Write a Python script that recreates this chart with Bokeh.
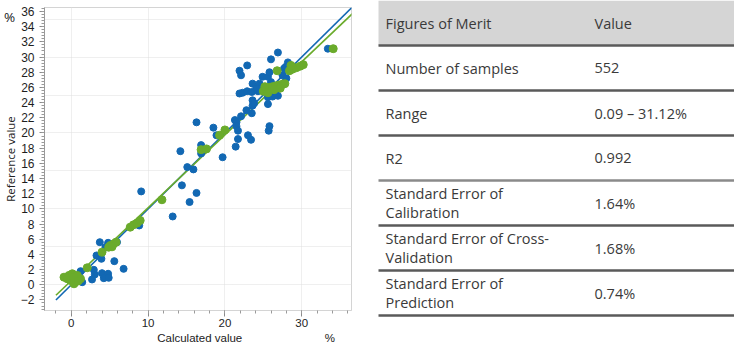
import math
from bokeh.plotting import figure
from bokeh.models import SingleIntervalTicker, Range1d, ColumnDataSource
from bokeh.layouts import row, column
from bokeh.embed import file_html
from bokeh.resources import INLINE
from bokeh.core.properties import value

# ---------------- data ----------------
blue_x = [0.35, 1.21, 1.42, 2.93, 3.06, 2.7, 4.0, 4.79, 4.23, 4.87, 3.28, 3.92, 5.6, 6.81,
          3.71, 4.79, 5.95, 4.44, 8.84, 9.1, 13.2, 14.4, 15.4, 16.3,
          14.2, 15.1, 15.9, 16.3, 16.9, 16.9, 18.5, 18.9, 19.7, 21.3, 21.5, 21.5, 21.7, 21.7,
          21.4, 22.1, 22.8, 23.5, 23.4, 23.0, 23.6, 23.6, 23.8, 25.8, 25.7, 25.6, 25.6, 26.9,
          26.2, 21.9, 22.3, 22.9, 23.5, 24.3, 24.9, 23.6, 24.5, 24.1, 26.0, 25.6, 25.8, 24.9,
          27.5, 27.7, 28.0, 27.9, 28.2, 26.0, 26.9, 22.9, 21.9, 22.1, 33.4, 27.2, 27.6, 26.5]
blue_y = [0.8, 1.79, 0.34, 1.97, 1.36, 0.7, 1.53, 1.45, 0.87, 0.92, 3.86, 3.42, 3.11, 2.1,
          5.61, 5.53, 5.61, 4.95, 7.81, 12.3, 9.0, 13.1, 10.9, 12.1,
          17.6, 15.5, 15.2, 21.4, 18.4, 17.3, 20.7, 19.7, 16.8, 21.7, 21.4, 20.9, 20.3, 19.2,
          18.2, 22.2, 23.0, 22.6, 19.1, 19.7, 24.3, 23.6, 23.9, 20.9, 20.3, 23.8, 24.7, 24.9,
          24.8, 25.2, 25.3, 25.5, 25.4, 25.5, 25.6, 26.5, 26.5, 25.9, 26.7, 27.4, 28.0, 27.4,
          27.6, 28.5, 27.2, 28.7, 29.3, 29.7, 30.6, 28.9, 28.2, 27.6, 31.1, 26.0, 26.4, 25.5]

green_x = [-0.95, -0.3, 0.13, -0.09, 0.56, 0.35, 1.2, 0.78, -0.52, 0.3, 0.9,
           2.07, 4.0, 5.09, 5.52, 5.82, 4.87, 5.3,
           7.67, 8.1, 8.54, 8.97, 11.8, 16.9, 17.6, 19.3, 20.0,
           25.0, 25.4, 25.8, 26.2, 26.6, 27.0, 27.4, 27.8, 25.6, 26.4, 27.2, 25.2,
           26.8, 28.4, 28.8, 29.3, 29.8, 30.2, 28.6, 34.1]
green_y = [1.0, 1.23, 1.45, 0.57, 0.79, 0.13, 0.79, 1.23, 0.79, 1.0, 0.5,
           2.24, 4.3, 5.18, 5.4, 5.61, 4.95, 5.0,
           7.59, 7.9, 8.12, 8.47, 11.2, 17.8, 17.9, 19.7, 20.4,
           25.5, 25.8, 26.0, 26.1, 26.2, 26.3, 26.4, 26.5, 25.3, 25.7, 25.9, 26.1,
           28.2, 28.2, 28.4, 28.6, 28.8, 29.0, 28.9, 31.1]

# regression lines (slope, intercept) and x extent
line_x = [-2.0, 36.6]
blue_fit = (1.0, 0.0)
green_fit = (0.961, 0.54)

# axis texts
y_title = "Reference value"
x_title = "Calculated value"
unit = "%"

# table
table_header = ["Figures of Merit", "Value"]
metric_names = ["Number of samples", "Range", "R2", "Standard Error of\nCalibration",
                "Standard Error of Cross-\nValidation", "Standard Error of\nPrediction"]
metric_values = ["552", "0.09 \u2013 31.12%", "0.992", "1.64%", "1.68%", "0.74%"]

BLUE = "#1268b3"
GREEN = "#6aab2b"
TXT = "#3a3a3a"
LBL = "#222222"

H = 344          # total height
LW = 17          # left strip width (y title + unit)
CW = 355         # chart width
SH = 13          # bottom strip height (x title + unit)
TW = 362         # table width
BL, BR = 25, 21  # chart borders left/right
BT, BB = 7, 21   # chart borders top/bottom


def bare(w, h, xr, yr):
    f = figure(width=w, height=h, x_range=xr, y_range=yr, output_backend="svg",
               toolbar_location=None, x_axis_type=None, y_axis_type=None, min_border=0)
    f.grid.visible = False
    f.outline_line_color = None
    f.border_fill_color = "white"
    f.background_fill_color = "white"
    return f


# ---------------- left strip ----------------
lf = bare(LW, H, Range1d(0, LW), Range1d(H, 0))
lf.text(x=[9], y=[16], text=[unit], text_font=value("Open Sans"), text_font_size="13.5px",
        text_color=LBL, text_align="center", text_baseline="middle")
lf.text(x=[10], y=[158.5], text=[y_title], text_font=value("Open Sans"), text_font_size="11.5px",
        text_color=LBL, text_align="center", text_baseline="middle", angle=math.pi / 2)

# ---------------- scatter chart ----------------
p = figure(width=CW, height=H - SH, x_range=Range1d(-3.49, 36.48), y_range=Range1d(-3.39, 36.53),
           output_backend="svg", toolbar_location=None,
           min_border_left=BL, min_border_right=BR, min_border_top=BT, min_border_bottom=BB)
p.background_fill_color = "white"
p.border_fill_color = "white"
p.outline_line_color = "#d4d4d4"
p.outline_line_width = 1

p.xaxis.ticker = SingleIntervalTicker(interval=10, num_minor_ticks=5)
p.yaxis.ticker = SingleIntervalTicker(interval=2, num_minor_ticks=5)
p.ygrid.ticker = SingleIntervalTicker(interval=5)
for g in (p.xgrid, p.ygrid):
    g.grid_line_color = "#dedede"
    g.grid_line_dash = "1 1"
    g.grid_line_width = 1

for ax in (p.xaxis, p.yaxis):
    ax.major_tick_in = 0
    ax.minor_tick_in = 0
    ax.major_tick_line_color = "#8a8a8a"
    ax.minor_tick_line_color = "#9a9a9a"
    ax.major_label_text_color = "#1e1e1e"
    ax.major_label_text_font = "Liberation Sans"
p.yaxis.major_tick_out = 5
p.yaxis.minor_tick_out = 3
p.yaxis.major_label_standoff = 5
p.yaxis.axis_line_color = "#9a9a9a"
p.yaxis.major_label_text_font_size = "12px"
p.xaxis.major_tick_out = 6
p.xaxis.minor_tick_out = 3
p.xaxis.major_label_standoff = 2
p.xaxis.axis_line_color = "#d4d4d4"
p.xaxis.major_label_text_font_size = "11.5px"

p.line(line_x, [blue_fit[0] * v + blue_fit[1] for v in line_x], line_color=BLUE, line_width=1.6)
p.line(line_x, [green_fit[0] * v + green_fit[1] for v in line_x], line_color=GREEN, line_width=1.6)
p.scatter(blue_x, blue_y, size=7, fill_color=BLUE, line_color=BLUE)
p.scatter(green_x, green_y, size=8, fill_color=GREEN, line_color=GREEN)

# ---------------- bottom strip ----------------
bf = bare(CW, SH, Range1d(0, CW), Range1d(SH, 0))
bf.text(x=[BL + (CW - BL - BR) / 2], y=[SH / 2], text=[x_title], text_font=value("Liberation Sans"),
        text_font_size="11.5px", text_color=LBL, text_align="center", text_baseline="middle")
bf.text(x=[CW - BR - 4], y=[SH / 2], text=[unit], text_font=value("Liberation Sans"),
        text_font_size="11.5px", text_color=LBL, text_align="center", text_baseline="middle")

# ---------------- table ----------------
t = bare(TW, H, Range1d(0, TW), Range1d(H, 0))
left, right = 6, TW
header_h = 45
row_h = 45
col1_x, col2_x = 13, 222

t.quad(left=[left], right=[right], top=[0], bottom=[header_h], fill_color="#d5d5d5", line_color=None)

n = len(metric_names)
line_ys = [header_h + i * row_h for i in range(n + 1)]
line_cols = ["#5a5a5a"] * (n + 1)
line_cols[3] = "#8a8a8a"
t.segment(x0=[left] * (n + 1), x1=[right] * (n + 1), y0=line_ys, y1=line_ys,
          line_color=line_cols, line_width=2.5)

tx, ty, tt = [], [], []
hy = 22.5
tx += [col1_x, col2_x]; ty += [hy, hy]; tt += table_header
lh = 19.5
for i, (name, val) in enumerate(zip(metric_names, metric_values)):
    cy = header_h + i * row_h + row_h / 2
    parts = name.split("\n")
    for k, part in enumerate(parts):
        tx.append(col1_x)
        ty.append(cy + (k - (len(parts) - 1) / 2) * lh)
        tt.append(part)
    tx.append(col2_x); ty.append(cy); tt.append(val)
src = ColumnDataSource(dict(x=tx, y=ty, text=tt))
t.text(x="x", y="y", text="text", source=src, text_font=value("Open Sans"),
       text_font_size="14.5px", text_color=TXT, text_baseline="middle", text_align="left")

layout = row(lf, column(p, bf), t)
open("out.html", "w").write(file_html(layout, INLINE))
